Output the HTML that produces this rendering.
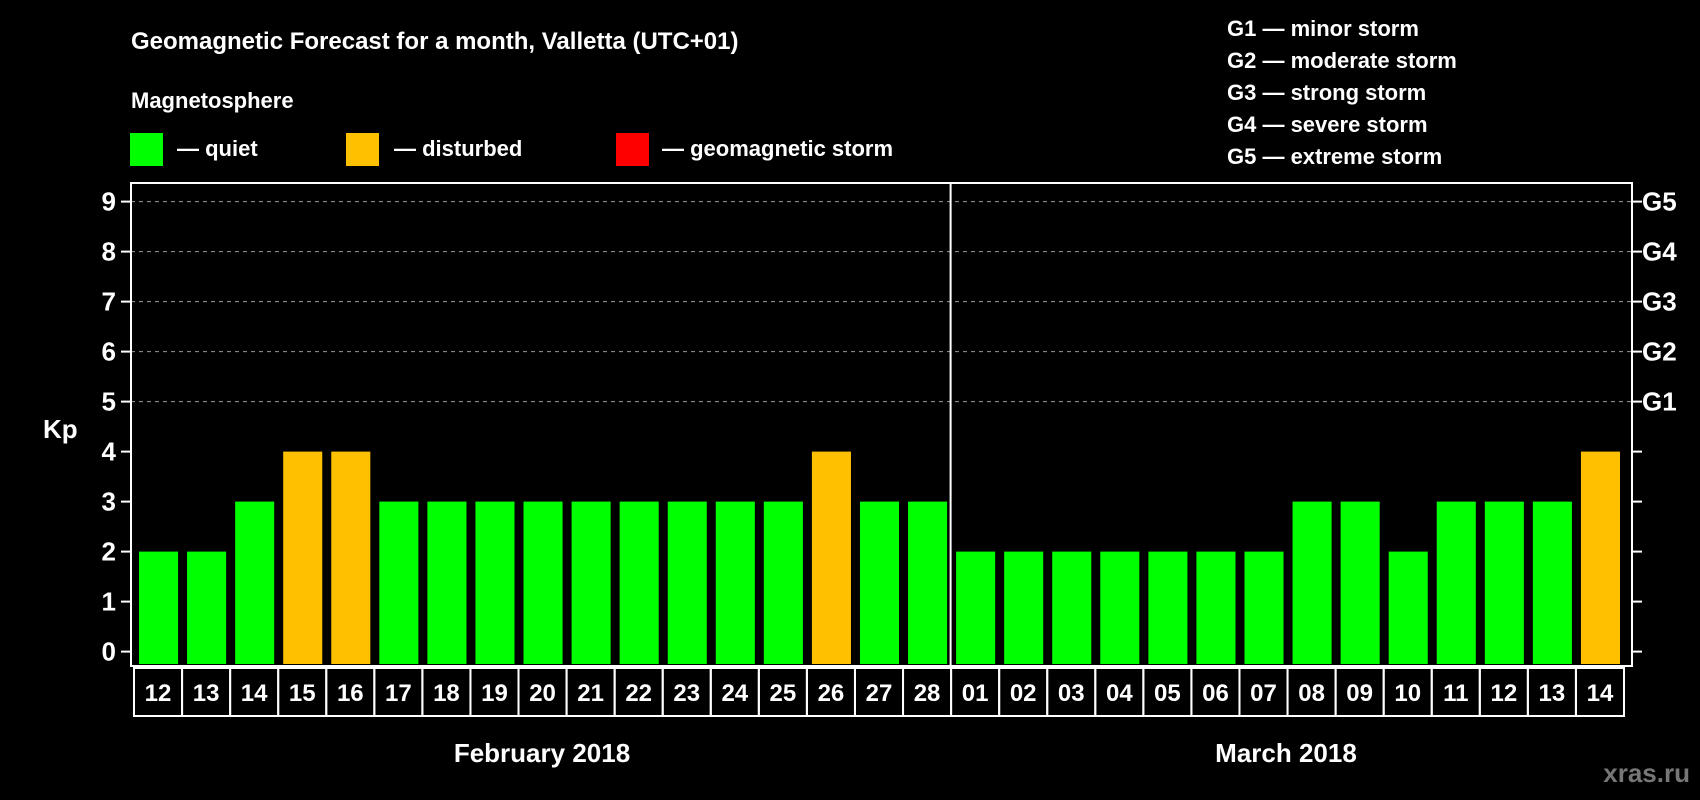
<!DOCTYPE html>
<html><head><meta charset="utf-8"><style>
html,body{margin:0;padding:0;background:#000;}
svg{display:block;font-family:"Liberation Sans",Arial,sans-serif;font-weight:bold;}
</style></head><body>
<svg id="chart" width="1700" height="800" viewBox="0 0 1700 800" xmlns="http://www.w3.org/2000/svg">
<rect width="1700" height="800" fill="#000"/>
<text x="131" y="49" fill="#fff" font-size="24">Geomagnetic Forecast for a month, Valletta (UTC+01)</text>
<text x="131" y="108" fill="#fff" font-size="22">Magnetosphere</text>
<g>
<rect x="130" y="133" width="33" height="33" fill="#00ff00"/>
<text x="177" y="156" fill="#fff" font-size="22">— quiet</text></g>
<g>
<rect x="346" y="133" width="33" height="33" fill="#ffc000"/>
<text x="394" y="156" fill="#fff" font-size="22">— disturbed</text></g>
<g>
<rect x="616" y="133" width="33" height="33" fill="#ff0000"/>
<text x="662" y="156" fill="#fff" font-size="22">— geomagnetic storm</text></g>
<g font-size="22" fill="#fff">
<text x="1227" y="36">G1 — minor storm</text>
<text x="1227" y="68">G2 — moderate storm</text>
<text x="1227" y="100">G3 — strong storm</text>
<text x="1227" y="132">G4 — severe storm</text>
<text x="1227" y="164">G5 — extreme storm</text>
</g>
<text x="43" y="438" fill="#fff" font-size="26">Kp</text>
<g id="plot"></g>
<text x="542" y="762" fill="#fff" font-size="26" text-anchor="middle">February 2018</text>
<text x="1286" y="762" fill="#fff" font-size="26" text-anchor="middle">March 2018</text>
<text x="1690" y="782" fill="#777" font-size="26" text-anchor="end">xras.ru</text>
</svg>
<script>
const days = ["12","13","14","15","16","17","18","19","20","21","22","23","24","25","26","27","28","01","02","03","04","05","06","07","08","09","10","11","12","13","14"];
const kpValues = [2,2,3,4,4,3,3,3,3,3,3,3,3,3,4,3,3,2,2,2,2,2,2,2,3,3,2,3,3,3,4];
const yTicks = [0,1,2,3,4,5,6,7,8,9];
const gLabels = ["G1","G2","G3","G4","G5"];
const gLevels = [5,6,7,8,9];
const febCount = 17;

const NS = "http://www.w3.org/2000/svg";
const plot = document.getElementById("plot");
const L = 131, R = 1632, T = 183, B = 666;
const cellL = 134, cellR = 1624;
const y = v => 651.6 - v * 50;
const pitch = (cellR - cellL) / days.length;
const x = i => cellL + i * pitch;
function mk(tag, attrs) { const e = document.createElementNS(NS, tag); for (const k in attrs) e.setAttribute(k, attrs[k]); plot.appendChild(e); return e; }

yTicks.forEach(t => {
  if (t >= 5) {
    const g = mk("line", {x1: L, x2: R, y1: y(t), y2: y(t), stroke: "#999", "stroke-width": 1, "stroke-dasharray": "4,4"});
    
    
  }
  const tl = mk("line", {x1: L - 10, x2: L, y1: y(t), y2: y(t), stroke: "#fff", "stroke-width": 2});
  
  
  const tr = mk("line", {x1: R, x2: R + 10, y1: y(t), y2: y(t), stroke: "#fff", "stroke-width": 2});
  
  
  const lb = mk("text", {x: 116, y: y(t) + 9, fill: "#fff", "font-size": 26, "text-anchor": "end"});
  lb.textContent = t;
  
  
});
gLabels.forEach((g, i) => {
  const t = mk("text", {x: 1642, y: y(gLevels[i]) + 9, fill: "#fff", "font-size": 26});
  t.textContent = g;
  
  
});
kpValues.forEach((v, i) => {
  const col = v >= 5 ? "#ff0000" : (v >= 4 ? "#ffc000" : "#00ff00");
  const b = mk("rect", {x: x(i) + 5, y: y(v), width: pitch - 9, height: y(0) - y(v) + 12.4, fill: col});
  
  
  const c = mk("rect", {x: x(i), y: 668, width: pitch, height: 48, fill: "none", stroke: "#fff", "stroke-width": 2});
  
  
  const t = mk("text", {x: x(i) + pitch / 2, y: 701, fill: "#fff", "font-size": 24, "text-anchor": "middle"});
  t.textContent = days[i];
  
  
});
const frame = mk("rect", {x: L, y: T, width: R - L, height: B - T, fill: "none", stroke: "#fff", "stroke-width": 2});


const dv = mk("line", {x1: x(febCount) - 0.5, x2: x(febCount) - 0.5, y1: T, y2: B, stroke: "#fff", "stroke-width": 2});


</script>
</body></html>
